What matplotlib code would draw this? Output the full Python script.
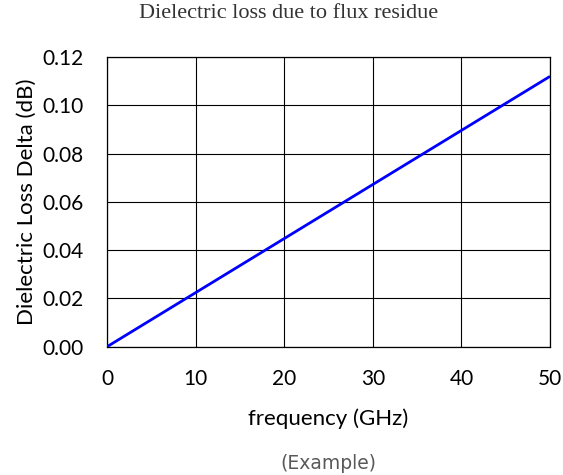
import matplotlib
matplotlib.use("Agg")
import matplotlib.pyplot as plt

# Dielectric loss vs frequency
frequency_ghz = [0, 50]
loss_delta_db = [0.0, 0.112]

x_ticks = [0, 10, 20, 30, 40, 50]
y_ticks = [0.00, 0.02, 0.04, 0.06, 0.08, 0.10, 0.12]

fig = plt.figure(figsize=(5.63, 4.75), dpi=100)
ax = fig.add_axes([0.190, 0.270, 0.787, 0.610])

ax.plot(frequency_ghz, loss_delta_db, color="#0000FF", lw=2.0, solid_capstyle="butt", zorder=3)

ax.set_xlim(0, 50)
ax.set_ylim(0, 0.12)
ax.set_xticks(x_ticks)
ax.set_yticks(y_ticks)
ax.set_xticklabels([str(v) for v in x_ticks])
ax.set_yticklabels([f"{v:.2f}" for v in y_ticks])
ax.grid(True, color="black", lw=0.8)
ax.set_axisbelow(True)
for s in ax.spines.values():
    s.set_color("black")
    s.set_linewidth(0.9)

ax.tick_params(length=0, labelsize=15)
ax.tick_params(axis="y", pad=17)
ax.tick_params(axis="x", pad=16)
for lab in ax.get_xticklabels() + ax.get_yticklabels():
    lab.set_family("Lato")

ax.set_xlabel("frequency (GHz)", family="Lato", fontsize=16, labelpad=14)
ax.set_ylabel("Dielectric Loss Delta (dB)", family="Lato", fontsize=16, labelpad=4)

fig.text(0.512, 0.971, "Dielectric loss due to flux residue", family="Liberation Serif",
         fontsize=16, color="#333333", ha="center", va="center")
fig.text(0.583, 0.025, "(Example)", family="DejaVu Sans", fontsize=13.5,
         color="#595959", ha="center", va="center")

fig.savefig("out.png", dpi=100)
